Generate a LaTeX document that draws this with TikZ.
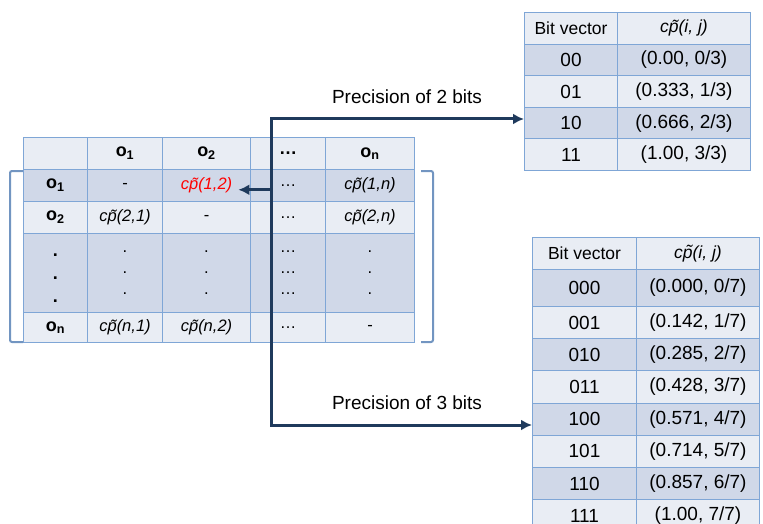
\documentclass[tikz,border=0pt]{standalone}
\usepackage{fontspec}
\setmainfont{Liberation Sans}
\usetikzlibrary{arrows.meta}

\definecolor{gridblue}{HTML}{7FA6D6}
\definecolor{bandlight}{HTML}{E9EDF4}
\definecolor{banddark}{HTML}{D0D8E8}
\definecolor{linknavy}{HTML}{1F3A5C}

\tikzset{
  cell/.style={draw=gridblue, line width=1pt, inner sep=0pt, anchor=north west},
  light/.style={cell, fill=bandlight},
  dark/.style={cell, fill=banddark},
  head/.style={font=\fontsize{18}{20}\selectfont\bfseries},
  entry/.style={font=\fontsize{16.5}{21}\selectfont, inner sep=3pt},
  tabtext/.style={font=\fontsize{19}{22}\selectfont},
  tip/.tip={Latex[length=11pt,width=11pt]},
  link/.style={draw=linknavy, line width=3pt, -tip},
  bracket/.style={draw=gridblue!90!black, line width=2pt, rounded corners=2pt},
}

\begin{document}
\begin{tikzpicture}[x=1pt, y=-1pt]
\useasboundingbox (0,0) rectangle (763,524);

% matrix of pairwise values
\foreach \r/\y/\h/\f in {1/137/32/light, 2/169/32/dark, 3/201/32/light, 4/233/79/dark, 5/312/30/light}
  \foreach \c/\x/\w in {1/23/64, 2/87/75, 3/162/88, 4/250/75, 5/325/89}
    \node[\f, minimum width=\w pt, minimum height=\h pt] (m-\r-\c) at (\x,\y) {};

\node[head] (h2) at (m-1-2) {o\textsubscript{1}};
\node[head] (h3) at (m-1-3) {o\textsubscript{2}};
\node[head] (h4) at (m-1-4) {…};
\node[head] (h5) at (m-1-5) {o\textsubscript{n}};

\node[head] (v2) at (m-2-1) {o\textsubscript{1}};
\node[head] (v3) at (m-3-1) {o\textsubscript{2}};
\node[head, align=center, font=\fontsize{18}{23}\selectfont\bfseries] (v4) at ([yshift=-5pt]m-4-1) {.\\.\\.};
\node[head] (v5) at (m-5-1) {o\textsubscript{n}};

\node[entry] (cp11) at (m-2-2) {-};
\node[entry, text=red] (cp12) at (m-2-3) {\itshape c\~{p}(1,2)};
\node[entry] (cp14) at (m-2-4) {…};
\node[entry] (cp1n) at (m-2-5) {\itshape c\~{p}(1,n)};

\node[entry] (cp21) at (m-3-2) {\itshape c\~{p}(2,1)};
\node[entry] (cp22) at (m-3-3) {-};
\node[entry] (cp24) at (m-3-4) {…};
\node[entry] (cp2n) at (m-3-5) {\itshape c\~{p}(2,n)};

\foreach \c in {2,3,5}
  \node[entry, align=center] (dots-\c) at (m-4-\c) {.\\.\\.};
\node[entry, align=center] (dots-4) at (m-4-4) {…\\…\\…};

\node[entry] (cpn1) at (m-5-2) {\itshape c\~{p}(n,1)};
\node[entry] (cpn2) at (m-5-3) {\itshape c\~{p}(n,2)};
\node[entry] (cpn4) at (m-5-4) {…};
\node[entry] (cpnn) at (m-5-5) {-};

\draw[bracket] (23,171) -| (10,342) -- (23,342);
\draw[bracket] (421,171) -| (433,342) -- (421,342);

% 2 bit table
\node[light, minimum width=93pt, minimum height=31.6pt, font=\fontsize{17.5}{20}\selectfont] (p-1-1) at (524,12) {Bit vector};
\node[light, minimum width=133pt, minimum height=31.6pt, font=\fontsize{17.5}{20}\selectfont\itshape] (p-1-2) at (617,12) {c\~{p}(i, j)};
\foreach \r/\y/\f/\bits/\val in {2/43.6/dark/00/{(0.00, 0/3)}, 3/75.2/light/01/{(0.333, 1/3)},
    4/106.8/dark/10/{(0.666, 2/3)}, 5/138.4/light/11/{(1.00, 3/3)}} {
  \node[\f, tabtext, minimum width=93pt, minimum height=31.6pt] (p-\r-1) at (524,\y) {\bits};
  \node[\f, tabtext, minimum width=133pt, minimum height=31.6pt] (p-\r-2) at (617,\y) {\val};
}

% 3 bit table
\node[light, minimum width=104pt, minimum height=32pt, font=\fontsize{17.5}{20}\selectfont] (q-1-1) at (532,237) {Bit vector};
\node[light, minimum width=123pt, minimum height=32pt, font=\fontsize{17.5}{20}\selectfont\itshape] (q-1-2) at (636,237) {c\~{p}(i, j)};
\node[dark, tabtext, minimum width=104pt, minimum height=37pt] (q-2-1) at (532,269) {000};
\node[dark, tabtext, minimum width=123pt, minimum height=37pt] (q-2-2) at (636,269) {(0.000, 0/7)};
\foreach \r/\y/\f/\bits/\val in {3/306/light/001/{(0.142, 1/7)}, 4/338.2/dark/010/{(0.285, 2/7)},
    5/370.4/light/011/{(0.428, 3/7)}, 6/402.6/dark/100/{(0.571, 4/7)}, 7/434.8/light/101/{(0.714, 5/7)},
    8/467/dark/110/{(0.857, 6/7)}, 9/499.2/light/111/{(1.00, 7/7)}} {
  \node[\f, tabtext, minimum width=104pt, minimum height=32.2pt] (q-\r-1) at (532,\y) {\bits};
  \node[\f, tabtext, minimum width=123pt, minimum height=32.2pt] (q-\r-2) at (636,\y) {\val};
}

% links
\coordinate (top) at (271,119);
\coordinate (bot) at (271,425);
\node[tabtext] (prec2) at (407,97) {Precision of 2 bits};
\node[tabtext] (prec3) at (407,403) {Precision of 3 bits};
\draw[link, tip-tip] (top -| p-4-1.west) -- (top) -- (bot) -- (bot -| q-6-1.west);
\draw[link] (cp12.base east -| top) -- ([xshift=3pt]cp12.base east);
\end{tikzpicture}
\end{document}
